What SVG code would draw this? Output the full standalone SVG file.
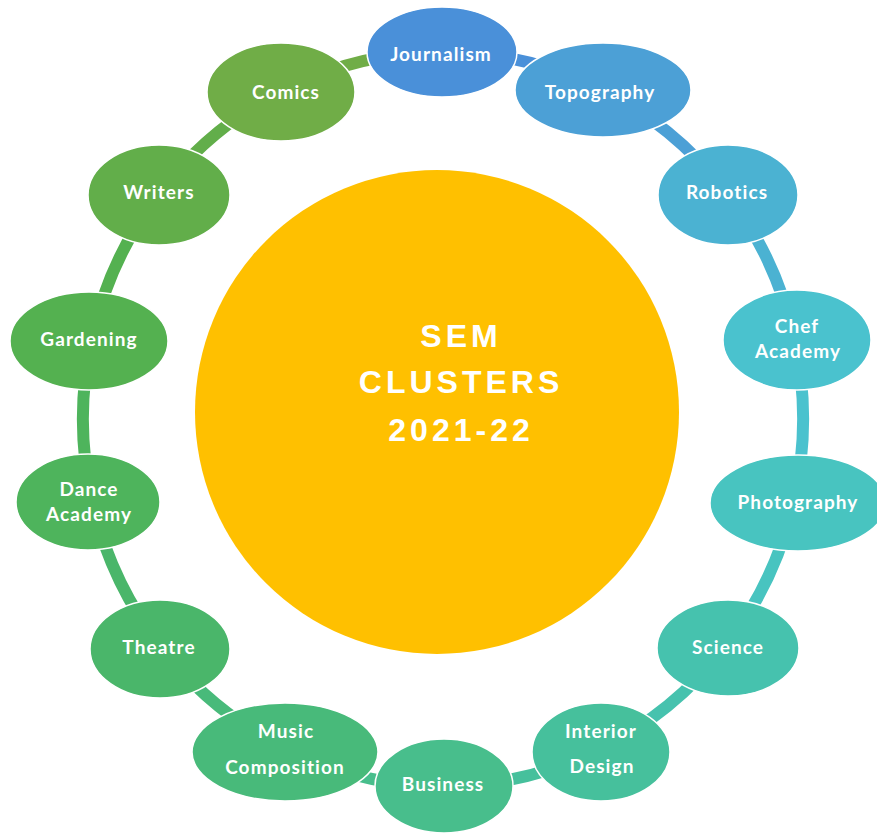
<svg xmlns="http://www.w3.org/2000/svg" width="877" height="834" viewBox="0 0 877 834">
<style>
.ring{fill:none;stroke-width:12}
.node ellipse{stroke:#ffffff;stroke-width:1.5}
.lbl{font-family:Lato,"Open Sans","Liberation Sans",sans-serif;font-weight:700;font-size:19px;letter-spacing:1.1px;fill:#ffffff;text-anchor:middle}
.title{font-family:"Liberation Sans",Arial,sans-serif;font-weight:700;font-size:32px;letter-spacing:4px;fill:#ffffff;text-anchor:middle}
</style>
<rect width="877" height="834" fill="#ffffff"/>
<g id="connectors">
<path class="ring" stroke="#4a90d9" d="M443,52 A360,367 0 0 1 599.2,88.3"/>
<path class="ring" stroke="#4ca0d6" d="M599.2,88.3 A360,367 0 0 1 724.5,190.2"/>
<path class="ring" stroke="#4bb2d2" d="M724.5,190.2 A360,367 0 0 1 794,337.3"/>
<path class="ring" stroke="#4ac2ce" d="M794,337.3 A360,367 0 0 1 794,500.7"/>
<path class="ring" stroke="#48c4c0" d="M794,500.7 A360,367 0 0 1 724.5,647.8"/>
<path class="ring" stroke="#46c2ae" d="M724.5,647.8 A360,367 0 0 1 599.2,749.7"/>
<path class="ring" stroke="#46c09c" d="M599.2,749.7 A360,367 0 0 1 443,786"/>
<path class="ring" stroke="#48be8c" d="M443,786 A360,367 0 0 1 286.8,749.7"/>
<path class="ring" stroke="#48ba7a" d="M286.8,749.7 A360,367 0 0 1 161.5,647.8"/>
<path class="ring" stroke="#4ab66a" d="M161.5,647.8 A360,367 0 0 1 92,500.7"/>
<path class="ring" stroke="#4eb45c" d="M92,500.7 A360,367 0 0 1 92,337.3"/>
<path class="ring" stroke="#54b150" d="M92,337.3 A360,367 0 0 1 161.5,190.2"/>
<path class="ring" stroke="#62ae4a" d="M161.5,190.2 A360,367 0 0 1 286.8,88.3"/>
<path class="ring" stroke="#70ad47" d="M286.8,88.3 A360,367 0 0 1 443,52"/>
</g>
<g id="center">
<circle cx="437" cy="412" r="242" fill="#ffc000"/>
<text class="title" x="461" y="347">SEM</text>
<text class="title" x="461" y="393">CLUSTERS</text>
<text class="title" x="461" y="441">2021-22</text>
</g>
<g id="n-journalism" class="node"><ellipse cx="442" cy="52" rx="75" ry="45" fill="#4a90d9"/><text class="lbl" x="441" y="61">Journalism</text></g>
<g id="n-topography" class="node"><ellipse cx="603" cy="90" rx="88" ry="47" fill="#4ca0d6"/><text class="lbl" x="600" y="99">Topography</text></g>
<g id="n-robotics" class="node"><ellipse cx="728" cy="195" rx="70" ry="50" fill="#4bb2d2"/><text class="lbl" x="727" y="199">Robotics</text></g>
<g id="n-chef" class="node"><ellipse cx="797" cy="340" rx="74" ry="50" fill="#4ac2ce"/><text class="lbl" x="797" y="333">Chef</text><text class="lbl" x="798" y="358">Academy</text></g>
<g id="n-photography" class="node"><ellipse cx="798" cy="503" rx="88" ry="48" fill="#48c4c0"/><text class="lbl" x="798" y="509">Photography</text></g>
<g id="n-science" class="node"><ellipse cx="728" cy="648" rx="71" ry="48" fill="#46c2ae"/><text class="lbl" x="728" y="654">Science</text></g>
<g id="n-interior" class="node"><ellipse cx="601" cy="752" rx="69" ry="49" fill="#46c09c"/><text class="lbl" x="601" y="738">Interior</text><text class="lbl" x="602" y="773">Design</text></g>
<g id="n-business" class="node"><ellipse cx="444" cy="786" rx="69" ry="47" fill="#48be8c"/><text class="lbl" x="443" y="791">Business</text></g>
<g id="n-music" class="node"><ellipse cx="285" cy="752" rx="93" ry="49" fill="#48ba7a"/><text class="lbl" x="286" y="738">Music</text><text class="lbl" x="285" y="774">Composition</text></g>
<g id="n-theatre" class="node"><ellipse cx="160" cy="649" rx="70" ry="49" fill="#4ab66a"/><text class="lbl" x="159" y="654">Theatre</text></g>
<g id="n-dance" class="node"><ellipse cx="88" cy="502" rx="72" ry="48" fill="#4eb45c"/><text class="lbl" x="89" y="496">Dance</text><text class="lbl" x="89" y="521">Academy</text></g>
<g id="n-gardening" class="node"><ellipse cx="89" cy="341" rx="79" ry="49" fill="#54b150"/><text class="lbl" x="89" y="346">Gardening</text></g>
<g id="n-writers" class="node"><ellipse cx="159" cy="195" rx="71" ry="50" fill="#62ae4a"/><text class="lbl" x="159" y="199">Writers</text></g>
<g id="n-comics" class="node"><ellipse cx="281" cy="92" rx="74" ry="49" fill="#70ad47"/><text class="lbl" x="286" y="99">Comics</text></g>
</svg>
